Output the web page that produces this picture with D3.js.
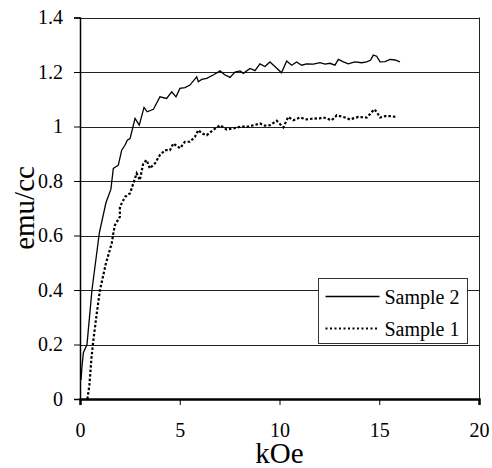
<!DOCTYPE html>
<html>
<head>
<meta charset="utf-8">
<script src="https://cdnjs.cloudflare.com/ajax/libs/d3/7.8.5/d3.min.js"></script>
<style>
	body { margin: 0; background: #fff; font-family: "Liberation Serif", serif; }
	svg text { font-family: "Liberation Serif", serif; }
</style>
</head>
<body>
<svg class="chart" width="492" height="468"></svg>
<script>
var width = 492, height = 468;

// data (kOe, emu/cc)
var s2_x = [0.05,0.1,0.17,0.35,0.6,0.97,1.3,1.55,1.67,1.92,2.09,2.26,2.37,2.51,2.76,2.97,3.21,3.37,3.68,4.01,4.34,4.6,4.81,5.01,5.26,5.51,5.85,5.93,6.1,6.35,6.7,7.02,7.25,7.52,7.77,8.02,8.19,8.52,8.77,9.02,9.27,9.52,9.77,10.1,10.36,10.61,10.86,11.11,11.36,11.7,12.03,12.28,12.53,12.78,12.95,13.2,13.45,13.78,14.12,14.37,14.57,14.7,14.87,15.04,15.29,15.54,15.79,16.04];
var s2_y = [0.07,0.12,0.17,0.2,0.4,0.61,0.72,0.77,0.846,0.858,0.913,0.932,0.95,0.956,1.03,1.005,1.07,1.054,1.063,1.109,1.103,1.127,1.109,1.14,1.143,1.152,1.182,1.164,1.173,1.177,1.19,1.204,1.19,1.18,1.2,1.204,1.195,1.213,1.205,1.23,1.22,1.237,1.22,1.197,1.24,1.225,1.237,1.225,1.23,1.229,1.234,1.229,1.232,1.225,1.246,1.237,1.23,1.237,1.234,1.237,1.244,1.262,1.258,1.237,1.238,1.246,1.244,1.237];

var s1_x = [0.37,0.47,0.58,0.67,0.84,1.0,1.3,1.59,1.67,1.75,2.0,2.0,2.26,2.51,2.67,2.84,3.0,3.17,3.34,3.5,3.76,4.0,4.26,4.51,4.68,5.01,5.26,5.51,5.76,5.93,6.1,6.35,6.68,7.02,7.35,7.68,8.02,8.44,8.77,9.02,9.27,9.52,9.86,10.19,10.44,10.69,11.03,11.36,11.7,12.0,12.2,12.62,12.87,13.2,13.53,13.95,14.37,14.57,14.74,14.87,15.04,15.29,15.54,15.87];
var s1_y = [0.0,0.05,0.155,0.216,0.314,0.4,0.498,0.571,0.608,0.638,0.669,0.705,0.742,0.755,0.791,0.828,0.803,0.865,0.877,0.846,0.865,0.895,0.913,0.913,0.938,0.92,0.944,0.944,0.962,0.987,0.975,0.968,0.987,1.005,0.989,0.993,0.999,1.0,1.006,1.011,1.003,1.005,1.021,0.997,1.035,1.023,1.033,1.026,1.029,1.03,1.033,1.023,1.041,1.035,1.026,1.035,1.033,1.048,1.063,1.054,1.033,1.038,1.038,1.035];

var xTicks = [0,5,10,15,20];
var yTicks = [0,0.2,0.4,0.6,0.8,1,1.2,1.4];
var seriesNames = ["Sample 2", "Sample 1"];

var margin = {left: 80, right: 13, top: 17.5, bottom: 69};

var svg = d3.select("svg.chart");

var x = d3.scaleLinear()
	.domain([0,20])
	.range([margin.left, width - margin.right]);

var y = d3.scaleLinear()
	.domain([0,1.4])
	.range([height - margin.bottom, margin.top]);

// gridlines
svg.append("g")
	.selectAll("line")
	.data(yTicks.slice(1))
	.enter().append("line")
		.attr("x1", x(0))
		.attr("x2", x(20))
		.attr("y1", function(d){return Math.round(y(d)) + 0.5;})
		.attr("y2", function(d){return Math.round(y(d)) + 0.5;})
		.attr("stroke", "#222")
		.attr("stroke-width", 1);

// right border
svg.append("line")
	.attr("x1", x(20) + 0.5).attr("x2", x(20) + 0.5)
	.attr("y1", y(1.4)).attr("y2", y(0))
	.attr("stroke", "#222");

var xAxis = svg.append("g")
	.attr("transform", "translate(0," + y(0) + ")")
	.call(d3.axisBottom(x).tickValues(xTicks).tickSize(6).tickPadding(18).tickFormat(d3.format("d")));

var yAxis = svg.append("g")
	.attr("transform", "translate(" + x(0) + ",0)")
	.call(d3.axisLeft(y).tickValues(yTicks).tickSize(6).tickPadding(11).tickFormat(function(d){return d3.format("")(d);}));

[xAxis, yAxis].forEach(function(a){
	a.attr("font-family", "Liberation Serif").attr("font-size", 20);
	a.select(".domain").attr("stroke", "#000").attr("stroke-width", 1.5);
	a.selectAll(".tick line").attr("stroke", "#000");
	a.selectAll("text").attr("fill", "#000");
});
xAxis.select(".domain").attr("stroke-width", 2.5);

var line = d3.line()
	.x(function(d){return x(d[0]);})
	.y(function(d){return y(d[1]);});

svg.append("path")
	.datum(d3.zip(s2_x, s2_y))
	.attr("d", line)
	.attr("fill", "none")
	.attr("stroke", "#000")
	.attr("stroke-width", 1.3);

svg.append("path")
	.datum(d3.zip(s1_x, s1_y))
	.attr("d", line)
	.attr("fill", "none")
	.attr("stroke", "#000")
	.attr("stroke-width", 2.2)
	.attr("stroke-dasharray", "2.5,2");

// axis titles
svg.append("text")
	.attr("x", x(10))
	.attr("y", 463)
	.attr("text-anchor", "middle")
	.attr("font-size", 29)
	.text("kOe");

svg.append("text")
	.attr("transform", "translate(34,208) rotate(-90)")
	.attr("text-anchor", "middle")
	.attr("font-size", 29)
	.text("emu/cc");

// legend
var leg = svg.append("g").attr("transform", "translate(318.5,278.5)");
leg.append("rect")
	.attr("width", 149).attr("height", 65)
	.attr("fill", "#fff").attr("stroke", "#333").attr("stroke-width", 1);

leg.selectAll(".legLine")
	.data(seriesNames)
	.enter().append("g")
		.attr("class", "legLine")
		.each(function(d, i){
			var g = d3.select(this);
			g.append("line")
				.attr("x1", 7).attr("x2", 61)
				.attr("y1", 18 + i*32).attr("y2", 18 + i*32)
				.attr("stroke", "#000")
				.attr("stroke-width", i == 0 ? 1.3 : 2)
				.attr("stroke-dasharray", i == 0 ? null : "2,2.5");
			g.append("text")
				.attr("x", 66).attr("y", 25 + i*32)
				.attr("font-size", 20)
				.text(d);
		});
</script>
</body>
</html>
